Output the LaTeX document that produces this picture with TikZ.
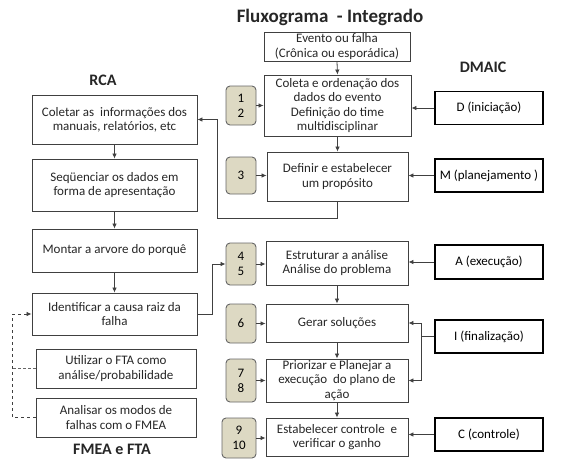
\documentclass[tikz,border=0pt]{standalone}
\usepackage{fontspec}
\setmainfont{Carlito}
\usetikzlibrary{arrows.meta}
\definecolor{tanfill}{RGB}{221, 217, 195}
\definecolor{boxline}{RGB}{64, 64, 64}

\begin{document}
\begin{tikzpicture}[x=1pt, y=-1pt,
            box/.style={draw=boxline, line width=0.9pt, align=center, inner sep=1pt,
                font=\fontsize{13}{14.2}\selectfont, text=black!85},
            numbox/.style={draw=boxline!80, fill=tanfill, rounded corners=4pt, line width=0.9pt,
                align=center, inner sep=1pt, font=\fontsize{13}{15}\selectfont, minimum width=30pt},
            phase/.style={draw=black, line width=1.4pt, align=center, minimum width=108pt,
                minimum height=33pt, font=\fontsize{13}{15}\selectfont},
            heading/.style={font=\bfseries\fontsize{16}{18}\selectfont, text=black!85},
            arr/.style={-{Latex[length=5pt, width=4.5pt]}, line width=0.8pt, draw=boxline},
            dsh/.style={dashed, dash pattern=on 3pt off 2pt, line width=0.8pt, draw=boxline!80}]
            \useasboundingbox (0, 0) rectangle (566, 472);

            % titles
            \node[heading, font=\bfseries\fontsize{19}{21}\selectfont] (title) at (330, 17) {Fluxograma~ - Integrado};
            \node[heading] (rca) at (103, 80) {RCA};
            \node[heading] (dmaic) at (483, 67) {DMAIC};
            \node[heading] (fmea) at (112, 449) {FMEA e FTA};

            % center column
            \node[box, minimum width=146pt, minimum height=29pt] (evento) at (337, 46.5) {Evento ou falha\\(Crônica ou esporádica)};
            \node[box, minimum width=147pt, minimum height=61pt] (coleta) at (337.5, 105.5) {Coleta e ordenação dos\\dados do evento\\Definição do time\\multidisciplinar};
            \node[box, minimum width=141pt, minimum height=49pt] (definir) at (337.5, 176.5) {Definir e estabelecer\\um propósito};
            \node[box, minimum width=142pt, minimum height=44pt] (estrut) at (337, 263) {Estruturar a análise\\Análise do problema};
            \node[box, minimum width=142pt, minimum height=38pt] (gerar) at (337, 323) {Gerar soluções};
            \node[box, minimum width=142pt, minimum height=43pt] (prior) at (337, 380.5) {Priorizar e Planejar a\\execução~ do plano de\\ação};
            \node[box, minimum width=142pt, minimum height=38pt] (estab) at (337, 437) {Estabelecer controle~ e\\verificar o ganho};

            % step numbers
            \node[numbox, minimum height=39pt] (n12) at (241, 105.5) {1\\2};
            \node[numbox, minimum height=37pt] (n3) at (241, 175.5) {3};
            \node[numbox, minimum height=42pt] (n45) at (241, 264) {4\\5};
            \node[numbox, minimum height=39pt] (n6) at (241, 323.5) {6};
            \node[numbox, minimum height=43pt] (n78) at (241, 380.5) {7\\8};
            \node[numbox, minimum width=34pt, minimum height=40pt] (n910) at (239, 438) {9\\10};

            % DMAIC phases
            \node[phase] (dfase) at (489, 108) {D (iniciação)};
            \node[phase] (mfase) at (489, 175.5) {M (planejamento )};
            \node[phase, minimum height=34pt] (afase) at (489, 262) {A (execução)};
            \node[phase] (ifase) at (489, 336.5) {I (finalização)};
            \node[phase] (cfase) at (489, 434.5) {C (controle)};

            % RCA column
            \node[box, minimum width=165pt, minimum height=49pt] (coletar) at (114.5, 119.5) {Coletar as~ informações dos\\manuais, relatórios, etc};
            \node[box, minimum width=165pt, minimum height=52pt] (sequen) at (114.5, 185) {Seqüenciar os dados em\\forma de apresentação};
            \node[box, minimum width=165pt, minimum height=43pt] (montar) at (114.5, 250.5) {Montar a arvore do porquê};
            \node[box, minimum width=165pt, minimum height=42pt] (ident) at (114.5, 314) {Identificar a causa raiz da\\falha};
            \node[box, minimum width=160pt, minimum height=39pt] (fta) at (116, 368.5) {Utilizar o FTA como\\análise/probabilidade};
            \node[box, minimum width=160pt, minimum height=39pt] (fmeabox) at (116, 417.5) {Analisar os modos de\\falhas com o FMEA};

            % connectors
            \foreach \a/\b in {evento/coleta, coleta/definir, estrut/gerar, gerar/prior, prior/estab,
                coletar/sequen, sequen/montar, montar/ident}
                \draw[arr] (\a.south) -- (\b.north);
            \foreach \a/\b in {n12/coleta, n3/definir, n45/estrut, n6/gerar, n78/prior, n910/estab}
                \draw[arr] (\a.east) -- (\a.east -| \b.west);
            \foreach \a/\b in {dfase/coleta, mfase/definir, afase/estrut, cfase/estab}
                \draw[arr] (\a.west) -- (\a.west -| \b.east);

            \coordinate (fork) at (421, 336.5);
            \draw[line width=0.8pt, draw=boxline] (ifase.west) -- (fork);
            \draw[arr] (fork) |- (gerar.east);
            \draw[arr] (fork) |- (prior.east);

            \coordinate (back) at (217, 218);
            \draw[arr] (definir.south) |- (back) |- (coletar.east);
            \coordinate (rise) at (212, 264);
            \draw[arr] (ident.east) -| (rise) -- (n45.west);

            \draw[dsh, arr, dashed] (fmeabox.west) -- ++(-23, 0) |- (ident.west);
            \draw[dsh] (fta.west) -- ++(-23, 0);
        \end{tikzpicture}
\end{document}
